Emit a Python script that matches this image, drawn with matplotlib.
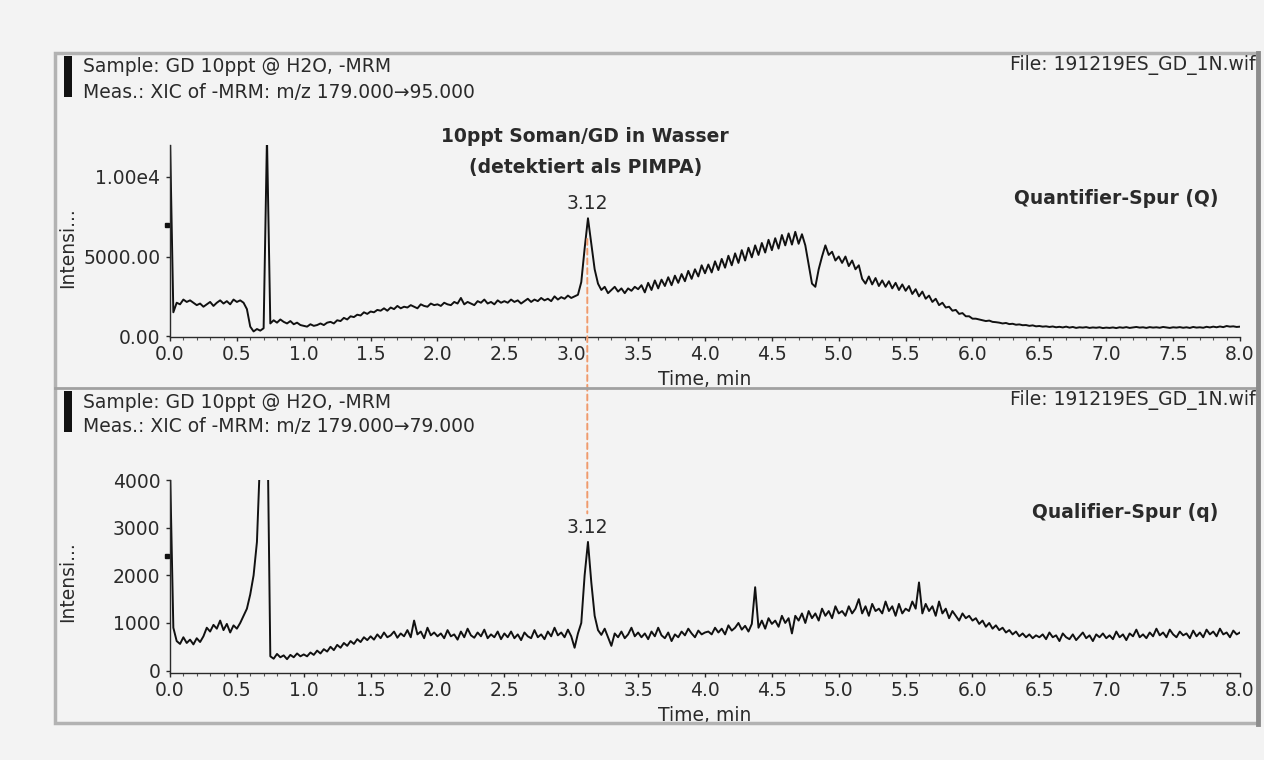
import numpy as np
import matplotlib
matplotlib.use('Agg')
import matplotlib.pyplot as plt
from matplotlib.patches import Rectangle, ConnectionPatch
from matplotlib.lines import Line2D
from matplotlib.ticker import MultipleLocator, FormatStrFormatter


# intensity, one value every 0.025 min from 0.0 to 8.0
q_counts = [
    12500, 1500, 2100, 2000, 2300, 2150, 2250, 2100, 1950, 2050, 1850, 2000, 2150, 1900, 2100, 2250, 2050, 2200, 2000, 2300, 2150,
    2250, 2100, 1700, 600, 300, 450, 350, 500, 12500, 800, 1000, 850, 1050, 900, 800, 950, 750, 850, 700, 650,
    600, 750, 650, 700, 800, 700, 850, 900, 800, 1000, 950, 1150, 1050, 1250, 1200, 1350, 1300, 1500, 1400, 1550,
    1500, 1650, 1600, 1750, 1600, 1800, 1700, 1900, 1750, 1850, 1800, 1950, 1850, 1750, 2000, 1900, 1850, 2050, 1950, 2000,
    1900, 2100, 2000, 1950, 2150, 2050, 2400, 2000, 2150, 2050, 1950, 2200, 2100, 2300, 2050, 2150, 2000, 2250, 2100, 2200,
    2100, 2300, 2150, 2250, 2050, 2200, 2350, 2150, 2300, 2200, 2400, 2250, 2350, 2200, 2500, 2300, 2450, 2350, 2550, 2400,
    2500, 2600, 3400, 5500, 7400, 5800, 4200, 3300, 2900, 3100, 2700, 2900, 3100, 2800, 3000, 2700, 3000, 2850, 3100, 2950,
    3200, 2750, 3350, 2900, 3500, 3000, 3550, 3150, 3700, 3200, 3800, 3350, 3900, 3450, 4100, 3600, 4200, 3750, 4450, 3950,
    4500, 4000, 4700, 4150, 4850, 4300, 5050, 4450, 5200, 4600, 5400, 4750, 5550, 4950, 5700, 5100, 5850, 5250, 6050, 5400,
    6150, 5500, 6350, 5700, 6450, 5750, 6550, 5800, 6400, 5700, 4500, 3300, 3100, 4200, 5000, 5700, 5100, 5300, 4750, 5000,
    4600, 5000, 4400, 4750, 4200, 4450, 3600, 3300, 3750, 3250, 3650, 3150, 3500, 3100, 3450, 3000, 3350, 2900, 3250, 2850,
    3150, 2650, 2950, 2500, 2800, 2350, 2550, 2150, 2350, 1950, 2100, 1800, 1850, 1600, 1650, 1400, 1450, 1250, 1250, 1100,
    1100, 1050, 1000, 950, 980, 900, 880, 850, 800, 830, 760, 780, 720, 740, 690, 700, 650, 680, 620, 640,
    600, 620, 580, 610, 560, 590, 550, 600, 540, 580, 520, 560, 540, 570, 520, 550, 530, 560, 510, 540,
    520, 550, 510, 560, 530, 570, 520, 550, 580, 540, 560, 520, 570, 540, 560, 530, 580, 550, 520, 560,
    540, 570, 530, 560, 520, 580, 540, 560, 530, 590, 550, 600, 560, 610, 570, 640, 600, 620, 580, 600,
]

qual_counts = [
    4300, 900, 620, 560, 700, 580, 650, 550, 680, 600, 720, 900, 820, 960, 880, 1050, 850, 980, 800, 950, 880,
    1000, 1150, 1300, 1600, 2000, 2700, 4600, 9000, 6000, 300, 250, 350, 280, 320, 240, 330, 280, 360, 300, 340,
    300, 380, 330, 420, 360, 450, 400, 500, 430, 540, 480, 580, 520, 620, 560, 660, 600, 700, 640, 720,
    650, 760, 680, 800, 700, 740, 820, 690, 780, 720, 850, 700, 1050, 760, 820, 680, 900, 740, 800, 720,
    780, 680, 850, 720, 760, 650, 820, 700, 880, 740, 690, 800, 720, 860, 680, 760, 700, 820, 660, 780,
    700, 820, 680, 760, 640, 800, 720, 680, 850, 700, 760, 660, 820, 720, 900, 740, 800, 700, 860, 720,
    480, 780, 1000, 2000, 2700, 1850, 1150, 850, 750, 880, 700, 520, 780, 700, 820, 680, 760, 900, 720, 800,
    700, 780, 660, 820, 720, 900, 740, 680, 800, 620, 760, 700, 820, 740, 880, 780, 700, 840, 760, 800,
    820, 760, 900, 800, 880, 760, 950, 840, 900, 1000, 860, 940, 820, 980, 1750, 900, 1050, 880, 1100, 980,
    1050, 920, 1150, 1000, 1100, 780, 1150, 1050, 1200, 1000, 1250, 1100, 1200, 1050, 1300, 1150, 1250, 1100, 1350, 1200,
    1250, 1150, 1350, 1200, 1300, 1500, 1200, 1350, 1150, 1400, 1250, 1300, 1200, 1450, 1250, 1350, 1150, 1400, 1200, 1300,
    1250, 1450, 1300, 1850, 1200, 1400, 1250, 1350, 1150, 1450, 1200, 1300, 1100, 1250, 1150, 1050, 1200, 1100, 1150, 1050,
    1100, 980, 1050, 920, 1000, 880, 950, 850, 900, 800, 850, 760, 820, 720, 780, 700, 760, 680, 740, 700,
    760, 660, 800, 700, 740, 620, 780, 700, 660, 760, 640, 720, 800, 680, 740, 620, 760, 700, 780, 680,
    740, 660, 820, 700, 760, 640, 780, 720, 860, 700, 760, 680, 800, 720, 880, 740, 800, 700, 860, 760,
    700, 820, 740, 780, 680, 840, 720, 800, 700, 860, 760, 820, 720, 880, 760, 800, 700, 840, 760, 800,
]

time_min = np.linspace(0.0, 8.0, len(q_counts))

peak_rt = 3.12
q_mark, qual_mark = 7000, 2400   # little squares sitting on the y axes

q_yticks = [0, 5000, 10000]
q_yticklabels = ['0.00', '5000.00', '1.00e4']
qual_yticks = [0, 1000, 2000, 3000, 4000]
qual_yticklabels = ['0', '1000', '2000', '3000', '4000']

sample_txt = 'Sample: GD 10ppt @ H2O, -MRM'
meas_q = 'Meas.: XIC of -MRM: m/z 179.000\u219295.000'
meas_qual = 'Meas.: XIC of -MRM: m/z 179.000\u219279.000'
file_txt = 'File: 191219ES_GD_1N.wiff'


W, H = 1264, 760
bg = '#f3f3f3'
ink = '#2a2a2a'
fs = 13.5

def fx(x):
    return x / W

def fy(y):
    return 1 - y / H


fig = plt.figure(figsize=(W / 100, H / 100), dpi=100, facecolor=bg)

ax1 = fig.add_axes([fx(170), fy(337), 1070 / W, (337 - 145) / H])
ax2 = fig.add_axes([fx(170), fy(673), 1070 / W, (673 - 480) / H])

ax1.plot(time_min, q_counts, color='#111111', lw=1.4)
ax2.plot(time_min, qual_counts, color='#111111', lw=1.4)
ax1.set_ylim(-50, 12000)
ax2.set_ylim(-50, 4000)
ax1.set_yticks(q_yticks)
ax1.set_yticklabels(q_yticklabels)
ax2.set_yticks(qual_yticks)
ax2.set_yticklabels(qual_yticklabels)

for ax, mark in [(ax1, q_mark), (ax2, qual_mark)]:
    ax.set_facecolor('none')
    ax.set_xlim(0, 8.0)
    for s in ['top', 'right']:
        ax.spines[s].set_visible(False)
    for s in ['left', 'bottom']:
        ax.spines[s].set_color(ink)
        ax.spines[s].set_linewidth(1.0)
    ax.xaxis.set_major_locator(MultipleLocator(0.5))
    ax.xaxis.set_minor_locator(MultipleLocator(0.1))
    ax.xaxis.set_major_formatter(FormatStrFormatter('%.1f'))
    ax.tick_params(axis='x', which='major', length=3, width=1, pad=3, labelsize=fs, colors=ink)
    ax.tick_params(axis='x', which='minor', length=2, width=0.8, colors='#555555')
    ax.tick_params(axis='y', length=3, width=1, pad=4, labelsize=fs, colors=ink)
    ax.set_xlabel('Time, min', fontsize=fs, color=ink, labelpad=4)
    ax.plot([-0.02], [mark], marker='s', ms=3.5, color='#111111', clip_on=False)

ax1.text(peak_rt, 8300, '3.12', ha='center', va='center', fontsize=fs, color=ink)
ax2.text(peak_rt, 3000, '3.12', ha='center', va='center', fontsize=fs, color=ink)

con = ConnectionPatch(xyA=(peak_rt, 6100), coordsA=ax1.transData,
                      xyB=(peak_rt, 3300), coordsB=ax2.transData,
                      color='#f09a6c', lw=1.4, ls=(0, (3, 2)), zorder=1)
fig.add_artist(con)

# outer frame of the two panes
fig.add_artist(Rectangle((fx(55), fy(723)), (1258 - 55) / W, (723 - 53) / H,
                         transform=fig.transFigure, fill=False, ec='#b2b2b2', lw=2.5))
fig.add_artist(Line2D([fx(55), fx(1258)], [fy(388), fy(388)], transform=fig.transFigure,
                      color='#a0a0a0', lw=2))

for top in [53, 388]:
    fig.add_artist(Rectangle((fx(64), fy(top + 44)), 8 / W, 41 / H,
                             transform=fig.transFigure, color='#111111', lw=0))
    fig.text(fx(83), fy(top + 14), sample_txt, fontsize=fs, color=ink, va='center')
    fig.text(fx(1010), fy(top + 12), file_txt, fontsize=fs, color=ink, va='center')
fig.text(fx(83), fy(92), meas_q, fontsize=fs, color=ink, va='center')
fig.text(fx(83), fy(427), meas_qual, fontsize=fs, color=ink, va='center')

# cover the part of the file name that runs past the right border
fig.add_artist(Rectangle((fx(1259), 0), 10 / W, 1, transform=fig.transFigure,
                         color=bg, lw=0, zorder=5))
fig.add_artist(Line2D([fx(1258), fx(1258)], [fy(53), fy(724)], transform=fig.transFigure,
                      color='#8c8c8c', lw=3.5, zorder=6))

fig.text(fx(68), fy(248), 'Intensi...', rotation=90, fontsize=fs, color=ink,
         ha='center', va='center')
fig.text(fx(68), fy(582), 'Intensi...', rotation=90, fontsize=fs, color=ink,
         ha='center', va='center')

fig.text(fx(585), fy(137), '10ppt Soman/GD in Wasser', fontsize=fs, fontweight='bold',
         color=ink, ha='center', va='center')
fig.text(fx(586), fy(168), '(detektiert als PIMPA)', fontsize=fs, fontweight='bold',
         color=ink, ha='center', va='center')
fig.text(fx(1116), fy(198), 'Quantifier-Spur (Q)', fontsize=fs, fontweight='bold',
         color=ink, ha='center', va='center')
fig.text(fx(1125), fy(512), 'Qualifier-Spur (q)', fontsize=fs, fontweight='bold',
         color=ink, ha='center', va='center')

fig.savefig('out.png', dpi=100, facecolor=bg)
